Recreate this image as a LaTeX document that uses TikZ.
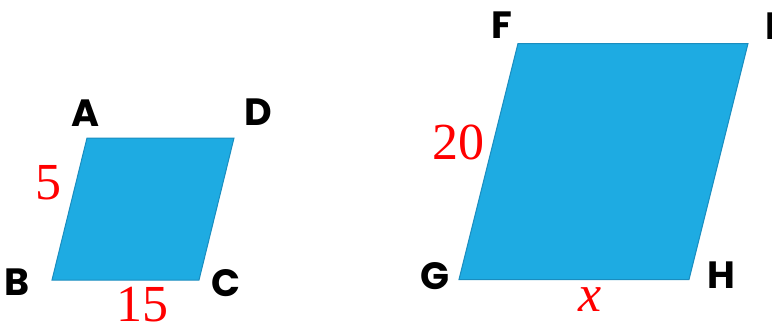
\documentclass[tikz,border=0pt]{standalone}
\usepackage{fontspec}
\setmainfont{Liberation Serif}
\setsansfont{Poppins}
\definecolor{pfill}{HTML}{1EABE2}
\definecolor{pedge}{HTML}{1A8DBF}
\definecolor{lred}{HTML}{FF0000}
\begin{document}
\begin{tikzpicture}[x=1pt,y=-1pt,
  pgram/.style={fill=pfill,draw=pedge,line width=1pt,line join=miter},
  vlabel/.style={font=\sffamily\bfseries\fontsize{38}{38}\selectfont,inner sep=0pt,text=black},
  mlabel/.style={font=\fontsize{52}{52}\selectfont,inner sep=0pt,text=lred}]
\useasboundingbox (0,0) rectangle (772,324);
% left parallelogram
\coordinate (A) at (87,138);
\coordinate (D) at (234,138);
\coordinate (C) at (199,280);
\coordinate (B) at (52,280);
\draw[pgram] (A) -- (D) -- (C) -- (B) -- cycle;
% right parallelogram
\coordinate (F) at (518,43.5);
\coordinate (E) at (748,43.5);
\coordinate (H) at (689,279.5);
\coordinate (G) at (459,279.5);
\draw[pgram] (F) -- (E) -- (H) -- (G) -- cycle;
% vertex labels
\node[vlabel] (lA) at (86,113.5) {A};
\node[vlabel] (lD) at (258.5,112.5) {D};
\node[vlabel] (lB) at (17,282.5) {B};
\node[vlabel] (lC) at (226,283.5) {C};
\node[vlabel] (lF) at (501.5,25.5) {F};
\node[vlabel,anchor=west] (lE) at (765,26.5) {E};
\node[vlabel] (lG) at (435,276.5) {G};
\node[vlabel] (lH) at (721.5,275.5) {H};
% measurements
\node[mlabel] (m5) at (48,182.5) {5};
\node[mlabel] (m15) at (142,305) {15};
\node[mlabel] (m20) at (458,142.5) {20};
\node[mlabel] (mx) at (590,300) {\itshape x};
\end{tikzpicture}
\end{document}
